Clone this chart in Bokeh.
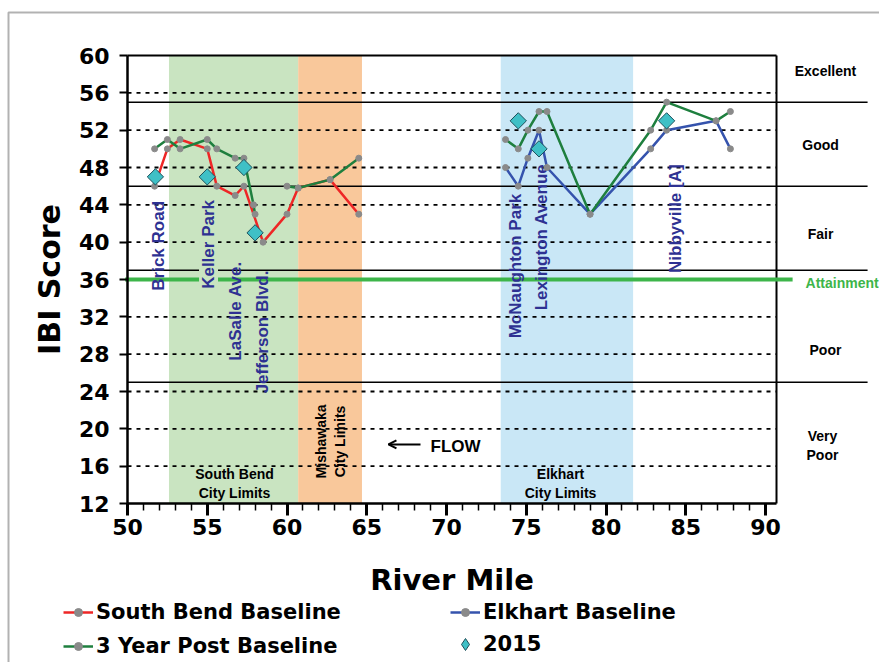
import math
from bokeh.plotting import figure
from bokeh.models import (Range1d, BoxAnnotation, Legend, LegendItem,
                          SingleIntervalTicker, LinearAxis, ColumnDataSource,
                          Arrow, OpenHead)
from bokeh.embed import file_html
from bokeh.resources import INLINE
from bokeh.core.properties import value

nan = float("nan")

# ---------------- data ----------------
sb_mile = [51.7, 52.5, 53.3, 55.0, 55.6, 56.75, 57.3, 58.5, 60.0, 60.7, 62.7, 64.5]
sb_ibi = [46, 50, 51, 50, 46, 45, 46, 40, 43, 45.8, 46.7, 43]

ek_mile = [73.7, 74.5, 75.1, 75.8, 76.3, 79.0, 82.8, 83.8, 86.9, 87.8]
ek_ibi = [48, 46, 49, 52, 48, 43, 50, 52, 53, 50]

post_mile = [51.7, 52.5, 53.3, 55.0, 55.6, 56.75, 57.3, 57.9, 58.0, nan,
             60.0, 60.7, 62.7, 64.5, nan,
             73.7, 74.5, 75.1, 75.8, 76.3, 79.0, 82.8, 83.8, 86.9, 87.8]
post_ibi = [50, 51, 50, 51, 50, 49, 49, 44, 43, nan,
            46, 45.8, 46.7, 49, nan,
            51, 50, 52, 54, 54, 43, 52, 55, 53, 54]

y2015_mile = [51.75, 55.0, 57.3, 58.0, 74.5, 75.8, 83.8]
y2015_ibi = [47, 47, 48, 41, 53, 50, 53]

band_names = ["South Bend\nCity Limits", "Mishawaka\nCity Limits", "Elkhart\nCity Limits"]
band_start = [52.6, 60.7, 73.4]
band_end = [60.7, 64.7, 81.7]

site_names = ["Brick Road", "Keller Park", "LaSalle Ave.", "Jefferson Blvd.",
              "McNaughton Park", "Lexington Avenue", "Nibbyville [A]"]

categories = ["Excellent", "Good", "Fair", "Poor", "Very\nPoor"]
category_breaks = [55, 46, 37, 25]
attainment = 36
grid_values = [16, 20, 24, 28, 32, 40, 44, 48, 52, 56]

# ---------------- layout / style constants ----------------
W, H = 879, 662
PXM = 15.95          # pixels per river mile
PYU = 9.333          # pixels per IBI unit
AX_LEFT_PX, AX_BOTTOM_PX = 127, 503
X0 = 50 - AX_LEFT_PX / PXM
X1 = X0 + W / PXM
Y0 = 12 - (H - AX_BOTTOM_PX) / PYU
Y1 = Y0 + H / PYU
X_FRAME_END = 90.69
BREAK_LINE_END = 96.4
ATTAIN_START, ATTAIN_END = 49.85, 91.7

BAND_COLORS = ["#c9e4c1", "#f9c89b", "#c9e7f6"]
RED, GREEN, BLUE = "#ee2626", "#1e7f3e", "#3553ad"
MARKER_GRAY = "#8a8a8a"
NAVY = "#2e3192"
ATTAIN_GREEN = "#3db54a"
DIAMOND_FILL, DIAMOND_LINE = "#3fc0c6", "#1d4f5a"

site_label_x = [51.94, 55.08, 56.77, 58.46, 74.33, 75.96, 84.36]
site_label_y = [34.8, 35.0, 27.3, 23.8, 29.7, 32.7, 36.7]
cat_label_x = [93.76, 93.45, 93.45, 93.76, 93.57]
cat_label_y = [58.3, 50.4, 40.9, 28.4, 18.2]
band_label_x = [56.71, 62.73, 77.15]
band_label_y = [14.13, 18.65, 14.13]

p = figure(width=W, height=H, output_backend="svg", toolbar_location=None,
           x_range=Range1d(X0, X1), y_range=Range1d(Y0, Y1),
           min_border=0, min_border_left=0, min_border_right=0, min_border_top=0,
           min_border_bottom=0, x_axis_type=None, y_axis_type=None)
p.outline_line_color = None
p.background_fill_color = "white"
p.border_fill_color = "white"

# outer border (left/top edges visible)
p.add_layout(BoxAnnotation(left=X0 + 8 / PXM, right=X1 + 5, top=Y1 - 12 / PYU,
                           bottom=Y0 - 5, fill_alpha=0, line_color="black",
                           line_width=2))

# bands
for s, e, c in zip(band_start, band_end, BAND_COLORS):
    p.add_layout(BoxAnnotation(left=s, right=e, bottom=12, top=60, fill_color=c,
                               fill_alpha=1, line_color=None, level="underlay"))

# dotted grid
p.segment(x0=[50] * len(grid_values), x1=[X_FRAME_END] * len(grid_values),
          y0=grid_values, y1=grid_values, line_color="black", line_width=1.8,
          line_dash="4 5")

# category break lines
p.segment(x0=[50] * len(category_breaks), x1=[BREAK_LINE_END] * len(category_breaks),
          y0=category_breaks, y1=category_breaks, line_color="black", line_width=1.5)

# frame top / right
p.line([50, X_FRAME_END], [60, 60], line_color="black", line_width=2)
p.line([X_FRAME_END, X_FRAME_END], [12, 60], line_color="black", line_width=2)

# attainment line
p.line([ATTAIN_START, ATTAIN_END], [attainment, attainment], line_color=ATTAIN_GREEN,
       line_width=4)

# site labels
idx_bg = [1]
src_plain = ColumnDataSource(dict(
    x=[v for i, v in enumerate(site_label_x) if i not in idx_bg],
    y=[v for i, v in enumerate(site_label_y) if i not in idx_bg],
    t=[v for i, v in enumerate(site_names) if i not in idx_bg]))
src_bg = ColumnDataSource(dict(
    x=[site_label_x[i] for i in idx_bg], y=[site_label_y[i] for i in idx_bg],
    t=[site_names[i] for i in idx_bg]))
common_site = dict(x="x", y="y", text="t", angle=math.pi / 2, text_align="left",
                   text_baseline="middle", text_font=value("Liberation Sans"),
                   text_font_style="bold", text_font_size="17px", text_color=NAVY)
p.text(source=src_plain, **common_site)
p.text(source=src_bg, background_fill_color=BAND_COLORS[0], **common_site)

# data lines
r_sb = p.line(sb_mile, sb_ibi, line_color=RED, line_width=2.5)
s_sb = p.scatter(sb_mile, sb_ibi, size=6, fill_color=MARKER_GRAY, line_color=MARKER_GRAY)
r_ek = p.line(ek_mile, ek_ibi, line_color=BLUE, line_width=2.5)
s_ek = p.scatter(ek_mile, ek_ibi, size=6, fill_color=MARKER_GRAY, line_color=MARKER_GRAY)
r_po = p.line(post_mile, post_ibi, line_color=GREEN, line_width=2.5)
s_po = p.scatter(post_mile, post_ibi, size=6, fill_color=MARKER_GRAY, line_color=MARKER_GRAY)
r_15 = p.scatter(y2015_mile, y2015_ibi, marker="square", angle=math.pi / 4, size=11.5,
                 fill_color=DIAMOND_FILL, line_color=DIAMOND_LINE, line_width=1)
# legend-only glyph for the 2015 symbol (a single undrawn NaN point)
r_15_leg = p.scatter(x=[nan], y=[nan], marker="diamond", size=15,
                     fill_color=DIAMOND_FILL, line_color=DIAMOND_LINE, line_width=1)

# band labels
p.text(x=band_label_x[0:1] + band_label_x[2:3], y=band_label_y[0:1] + band_label_y[2:3],
       text=band_names[0:1] + band_names[2:3], text_align="center", text_baseline="middle",
       text_font=value("Liberation Sans"), text_font_style="bold", text_font_size="14px",
       text_color="black", text_line_height=1.15)
p.text(x=band_label_x[1:2], y=band_label_y[1:2], text=band_names[1:2], angle=math.pi / 2,
       text_align="center", text_baseline="middle", text_font=value("Liberation Sans"),
       text_font_style="bold", text_font_size="14px", text_color="black",
       text_line_height=1.15)

# FLOW
p.text(x=[69.0], y=[18.12], text=["FLOW"], text_align="left", text_baseline="middle",
       text_font=value("Liberation Sans"), text_font_style="bold", text_font_size="17px",
       text_color="black")
p.add_layout(Arrow(end=OpenHead(size=8, line_width=2, line_color="black"),
                   x_start=68.37, y_start=18.33, x_end=66.36, y_end=18.33,
                   line_width=2, line_color="black"))

# category labels
p.text(x=cat_label_x, y=cat_label_y, text=categories, text_align="center",
       text_baseline="middle", text_font=value("Liberation Sans"), text_font_style="bold",
       text_font_size="14px", text_color="black", text_line_height=1.15)
p.text(x=[92.51], y=[35.6], text=["Attainment"], text_align="left", text_baseline="middle",
       text_font=value("Liberation Sans"), text_font_style="bold", text_font_size="14px",
       text_color=ATTAIN_GREEN)

# axes (fixed at the plot-area edges)
yax = LinearAxis(ticker=SingleIntervalTicker(interval=4, num_minor_ticks=0),
                 bounds=(12, 60), fixed_location=50)
yax.axis_line_width = 2.5
yax.major_tick_out = 8
yax.major_tick_in = 0
yax.major_tick_line_width = 2
yax.minor_tick_out = 0
yax.major_label_standoff = 10
yax.major_label_text_font = "DejaVu Sans"
yax.major_label_text_font_style = "bold"
yax.major_label_text_font_size = "22px"
yax.major_label_text_color = "black"
yax.axis_label = "IBI Score"
yax.axis_label_text_font = "DejaVu Sans"
yax.axis_label_text_font_style = "bold"
yax.axis_label_text_font_size = "30px"
yax.axis_label_text_color = "black"
yax.axis_label_standoff = 9
p.add_layout(yax, "left")

xax = LinearAxis(ticker=SingleIntervalTicker(interval=5, num_minor_ticks=5),
                 bounds=(50, X_FRAME_END), fixed_location=12)
xax.axis_line_width = 2.5
xax.major_tick_out = 12
xax.major_tick_in = 0
xax.major_tick_line_width = 3
xax.minor_tick_out = 7
xax.minor_tick_in = 0
xax.minor_tick_line_width = 1.5
xax.minor_tick_line_color = "black"
xax.major_label_standoff = 3
xax.major_label_text_font = "DejaVu Sans"
xax.major_label_text_font_style = "bold"
xax.major_label_text_font_size = "22px"
xax.major_label_text_color = "black"
xax.axis_label = "River Mile"
xax.axis_label_text_font = "DejaVu Sans"
xax.axis_label_text_font_style = "bold"
xax.axis_label_text_font_size = "29px"
xax.axis_label_text_color = "black"
xax.axis_label_standoff = 25
p.add_layout(xax, "below")

# legends
leg_common = dict(orientation="vertical", glyph_width=30, glyph_height=20,
                  label_standoff=3, spacing=10, padding=0, margin=0,
                  border_line_color=None, background_fill_alpha=0,
                  label_text_font="DejaVu Sans", label_text_font_style="bold",
                  label_text_font_size="21px", label_text_color="black",
                  label_height=20)
leg1 = Legend(items=[LegendItem(label="South Bend Baseline", renderers=[r_sb, s_sb]),
                     LegendItem(label="3 Year Post Baseline", renderers=[r_po, s_po])],
              location=(63, 4), **leg_common)
leg2 = Legend(items=[LegendItem(label="Elkhart Baseline", renderers=[r_ek, s_ek])],
              location=(450, 38), **leg_common)
leg3_opts = dict(leg_common)
leg3_opts.update(glyph_height=34, glyph_width=30)
leg3 = Legend(items=[LegendItem(label="2015", renderers=[r_15_leg])],
              location=(450, 1), **leg3_opts)
p.add_layout(leg1, "center")
p.add_layout(leg2, "center")
p.add_layout(leg3, "center")

open("out.html", "w").write(file_html(p, INLINE))
